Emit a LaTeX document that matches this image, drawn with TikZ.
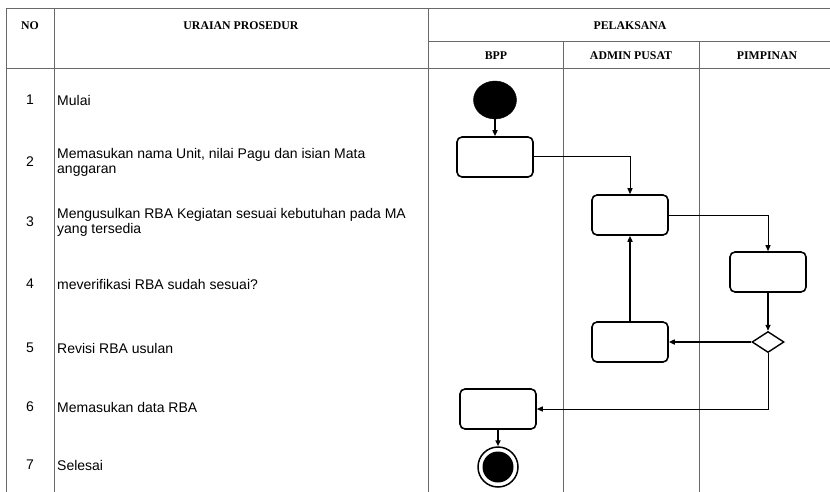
\documentclass[tikz,border=0pt]{standalone}
\usepackage{fontspec}
\setmainfont{Liberation Serif}
\newfontfamily\arialf{Liberation Sans}
\usetikzlibrary{shapes.geometric,arrows.meta}
\definecolor{tablegray}{RGB}{105,105,105}
\begin{document}
\begin{tikzpicture}[x=1pt,y=-1pt,
  gridline/.style={draw=tablegray,line width=0.9pt},
  headtxt/.style={font=\fontsize{11.8}{13}\selectfont\bfseries,inner sep=0pt},
  numtxt/.style={font=\arialf\fontsize{14}{15}\selectfont,inner sep=0pt},
  desctxt/.style={font=\arialf\fontsize{14}{15}\selectfont,inner sep=0pt,anchor=west,align=left},
  actbox/.style={draw,rounded corners=5pt,line width=1.6pt,minimum width=76pt,minimum height=40pt,inner sep=0pt},
  thinarrow/.style={line width=1pt,-{Triangle[length=6pt,width=5pt]}},
  thickarrow/.style={line width=1.8pt,-{Triangle[length=6pt,width=5pt]}}
]
\useasboundingbox (0,0) rectangle (830,492);
% table grid
\draw[gridline] (6,8) -- (830,8);
\draw[gridline] (428,41) -- (830,41);
\draw[gridline] (6,68) -- (830,68);
\draw[gridline] (6,8) -- (6,492);
\draw[gridline] (54,8) -- (54,492);
\draw[gridline] (428,8) -- (428,492);
\draw[gridline] (563,41) -- (563,492);
\draw[gridline] (699,41) -- (699,492);
% headers
\node[headtxt] (hno) at (30,26) {NO};
\node[headtxt] (hur) at (241,26) {URAIAN PROSEDUR};
\node[headtxt] (hpel) at (630,26) {PELAKSANA};
\node[headtxt] (hbpp) at (496,56) {BPP};
\node[headtxt] (hadm) at (631,56) {ADMIN PUSAT};
\node[headtxt] (hpim) at (767,56) {PIMPINAN};
% numbers
\node[numtxt] (n1) at (30,100) {1};
\node[numtxt] (n2) at (30,162) {2};
\node[numtxt] (n3) at (30,222) {3};
\node[numtxt] (n4) at (30,284) {4};
\node[numtxt] (n5) at (30,348) {5};
\node[numtxt] (n6) at (30,407) {6};
\node[numtxt] (n7) at (30,465) {7};
% descriptions
\node[desctxt] (d1) at (57,100) {Mulai};
\node[desctxt] (d2) at (57,162) {Memasukan nama Unit, nilai Pagu dan isian Mata\\anggaran};
\node[desctxt] (d3) at (57,222) {Mengusulkan RBA Kegiatan sesuai kebutuhan pada MA\\yang tersedia};
\node[desctxt] (d4) at (57,284) {meverifikasi RBA sudah sesuai?};
\node[desctxt] (d5) at (57,348) {Revisi RBA usulan};
\node[desctxt] (d6) at (57,407) {Memasukan data RBA};
\node[desctxt] (d7) at (57,465) {Selesai};
% flow
\node[ellipse,fill=black,draw=black,minimum width=43pt,minimum height=38pt,inner sep=0pt] (start) at (495,100) {};
\node[actbox] (b1) at (495,157) {};
\node[actbox] (b2) at (630,215) {};
\node[actbox] (b3) at (768,272) {};
\node[diamond,draw,line width=1.4pt,minimum width=32pt,minimum height=21pt,inner sep=0pt] (dia) at (768,342) {};
\node[actbox] (b4) at (630,342) {};
\node[actbox] (b5) at (498,409) {};
\node[circle,draw,line width=1.5pt,minimum size=40pt,inner sep=0pt] (endo) at (498,467) {};
\node[circle,fill=black,minimum size=31pt,inner sep=0pt] (endi) at (498,467) {};
% connectors
\draw[thickarrow] (start.south) -- (b1.north);
\draw[thinarrow] (b1.east) -| (b2.north);
\draw[thinarrow] (b2.east) -| (b3.north);
\draw[thickarrow] (b3.south) -- (dia.north);
\draw[thickarrow] (dia.west) -- (b4.east);
\draw[thickarrow] (b4.north) -- (b2.south);
\draw[thinarrow] (dia.south) |- (b5.east);
\draw[thickarrow] (b5.south) -- (endo.north);
\end{tikzpicture}
\end{document}
